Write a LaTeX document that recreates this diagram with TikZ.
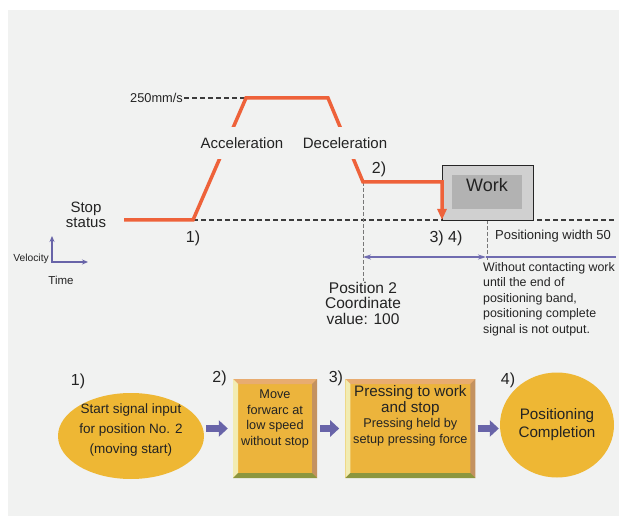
\documentclass[tikz,border=0pt]{standalone}
\usepackage{fontspec}
\setmainfont{Liberation Sans}
\usetikzlibrary{positioning,calc,shapes.geometric,arrows.meta}
\definecolor{panelgray}{RGB}{241,242,241}
\definecolor{inkgray}{RGB}{35,35,35}
\definecolor{profileorange}{RGB}{238,98,58}
\definecolor{guidegray}{RGB}{60,60,60}
\definecolor{tickgray}{RGB}{120,120,120}
\definecolor{bandpurple}{RGB}{112,108,176}
\definecolor{flowpurple}{RGB}{104,100,168}
\definecolor{stepgold}{RGB}{238,183,52}
\definecolor{boxgold}{RGB}{236,180,60}
\definecolor{bevtop}{RGB}{232,172,112}
\definecolor{bevleft}{RGB}{242,236,178}
\definecolor{bevright}{RGB}{196,146,96}
\definecolor{bevbottom}{RGB}{140,150,62}
\definecolor{workgray}{RGB}{208,208,208}
\definecolor{workdark}{RGB}{178,178,178}
\newcommand\bevw{5pt}
\newcommand\bigfnt{\fontsize{15.2}{15.5}\selectfont}
\newcommand\smallfnt{\fontsize{12.7}{15.5}\selectfont}

\begin{document}
\begin{tikzpicture}[x=1pt,y=-1pt,
  every node/.style={text=inkgray},
  profile/.style={draw=profileorange,line width=3.5pt},
  guide/.style={draw=guidegray,line width=1.3pt,dash pattern=on 5pt off 3pt},
  vguide/.style={draw=tickgray,line width=0.9pt,dash pattern=on 4pt off 2pt},
  band/.style={draw=bandpurple,line width=1.3pt},
  txt/.style={font=\fontsize{15}{14.5}\selectfont,inner sep=1pt,align=center},
  gaplbl/.style={txt,fill=panelgray,minimum height=32pt,inner xsep=2pt},
  steplbl/.style={font=\fontsize{16}{18}\selectfont,inner sep=0pt},
  stepell/.style={ellipse,fill=stepgold,inner sep=0pt},
  bevelbox/.style={rectangle,fill=boxgold,align=center,inner sep=0pt,
    path picture={
      \coordinate (nw) at (path picture bounding box.north west);
      \coordinate (ne) at (path picture bounding box.north east);
      \coordinate (sw) at (path picture bounding box.south west);
      \coordinate (se) at (path picture bounding box.south east);
      \fill[bevtop] (nw) -- (ne) -- ([xshift=-\bevw,yshift=-\bevw]ne) -- ([xshift=\bevw,yshift=-\bevw]nw) -- cycle;
      \fill[bevleft] (nw) -- (sw) -- ([xshift=\bevw,yshift=\bevw]sw) -- ([xshift=\bevw,yshift=-\bevw]nw) -- cycle;
      \fill[bevright] (ne) -- (se) -- ([xshift=-\bevw,yshift=\bevw]se) -- ([xshift=-\bevw,yshift=-\bevw]ne) -- cycle;
      \fill[bevbottom] (sw) -- (se) -- ([xshift=-\bevw,yshift=\bevw]se) -- ([xshift=\bevw,yshift=\bevw]sw) -- cycle;
    }},
  flow/.style={draw=flowpurple,line width=7pt,-{Triangle[width=16pt,length=9pt]}}
]
  \useasboundingbox (0,0) rectangle (619,516);
  \fill[white] (0,0) rectangle (619,516);
  \fill[panelgray] (8,10) rectangle (619,516);

  \coordinate (p0) at (124,220);
  \coordinate (p1) at (193,220);
  \coordinate (p2) at (246,98);
  \coordinate (p3) at (328,98);
  \coordinate (p4) at (363,182);
  \coordinate (p5) at (442,182);
  \coordinate (p6) at (442,220);
  \coordinate (baseend) at (616,220);
  \coordinate (tickT) at (487,220);
  \coordinate (tickB) at (487,261);
  \coordinate (bandL) at (363,257);
  \coordinate (bandR) at (486,257);
  \coordinate (bandE) at (616,257);

  \node[font=\fontsize{12.8}{14}\selectfont,inner sep=1pt,anchor=east] (vmax) at (184,98) {250mm/s};
  \draw[guide] (vmax) -- (p2);
  \draw[guide] (p1) -- (baseend);

  \node[txt,font=\fontsize{15.5}{15.5}\selectfont] (posval) at (363,303) {Position 2\\Coordinate\\value: 100};
  \draw[vguide] (p4) -- (posval);
  \draw[vguide] (tickT) -- (tickB);

  \node[draw=black!85,line width=1pt,fill=workgray,minimum width=91pt,minimum height=55pt] (work) at (487.5,193) {};
  \node[fill=workdark,minimum width=70pt,minimum height=33pt,text depth=14pt,font=\fontsize{18}{20}\selectfont] (worklbl) at (487,192) {Work};

  \draw[profile,-{Triangle[width=9pt,length=11pt]}] (p0) -- (p1) -- (p2) -- (p3) -- (p4) -- (p5) -- (p6);
  \node[gaplbl] (accel) at (242,143) {Acceleration};
  \node[gaplbl] (decel) at (345,143) {Deceleration};

  \draw[band,{Stealth[length=8pt,width=5pt]}-{Stealth[length=8pt,width=5pt]}] (bandL) -- (bandR);
  \draw[band] (bandR) -- (bandE);

  \node[txt] (stop) at (86,215) {Stop\\status};
  \node[steplbl] (m1) at (193,238) {1)};
  \node[steplbl] (m2) at (379,169) {2)};
  \node[steplbl] (m34) at (446,238) {3) 4)};
  \node[font=\fontsize{13}{14}\selectfont,inner sep=1pt,anchor=west] (bandlbl) at (494,236) {Positioning width 50};
  \node[font=\fontsize{12.4}{15.5}\selectfont,inner sep=1pt,align=left,anchor=north west] (bandnote) at (482,261)
    {Without contacting work\\until the end of\\positioning band,\\positioning complete\\signal is not output.};

  \coordinate (org) at (52,262);
  \coordinate (vtop) at (52,236);
  \coordinate (tright) at (88,262);
  \draw[draw=flowpurple,line width=1.3pt,{Stealth[length=6pt,width=5pt]}-{Stealth[length=6pt,width=5pt]}] (vtop) -- (org) -- (tright);
  \node[font=\fontsize{10.3}{12}\selectfont,inner sep=0pt,anchor=east] (vel) at (49,259) {Velocity};
  \node[font=\fontsize{11.5}{13}\selectfont,inner sep=0pt] (time) at (61,280) {Time};

  \node[stepell,minimum width=146pt,minimum height=86pt] (start) at (131,436) {};
  \node[align=center,inner sep=0pt,font=\fontsize{13.5}{20}\selectfont] (starttxt) at (131,430) {Start signal input\\for position No. 2\\(moving start)};
  \node[bevelbox,minimum width=84pt,minimum height=99pt,text depth=22pt,font=\fontsize{12.7}{15.7}\selectfont] (move) at (275,428.5) {Move\\forwarc at\\low speed\\without stop};
  \node[bevelbox,minimum width=130pt,minimum height=99pt,text depth=28pt,font=\bigfnt,right=28pt of move] (press)
    {{\bigfnt Pressing to work}\\{\bigfnt and stop}\\{\smallfnt Pressing held by}\\{\smallfnt setup pressing force}};
  \node[stepell,minimum width=114pt,minimum height=105pt,align=center,font=\fontsize{15.2}{18}\selectfont] (done) at (557,425) {Positioning\\Completion};

  \node[steplbl] (n1) at (78,381) {1)};
  \node[steplbl,left=6pt of move.north west] (n2) {2)};
  \node[steplbl,left=2pt of press.north west] (n3) {3)};
  \node[steplbl] (n4) at (508,380) {4)};

  \draw[flow,shorten <=2pt,shorten >=5pt] (start.east |- move.west) -- (move.west);
  \draw[flow,shorten <=3pt,shorten >=6pt] (move.east) -- (press.west);
  \draw[flow,shorten <=2pt,shorten >=1pt] (press.east) -- (press.east -| done.west);
\end{tikzpicture}
\end{document}
